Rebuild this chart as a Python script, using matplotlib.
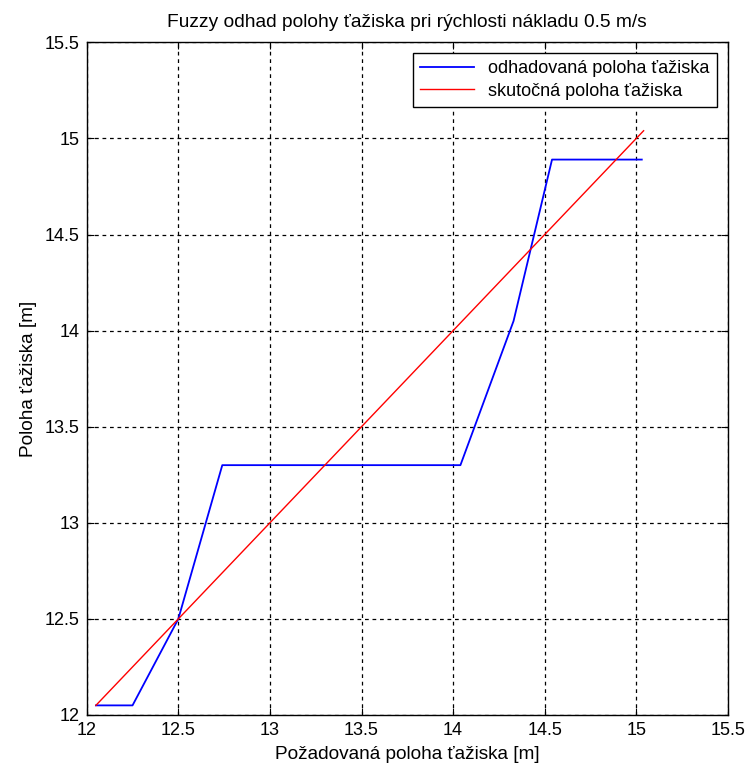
import matplotlib
matplotlib.use("Agg")
import matplotlib.pyplot as plt

plt.rcParams['font.family'] = ['Liberation Sans', 'DejaVu Sans']

title = "Fuzzy odhad polohy ťažiska pri rýchlosti nákladu 0.5 m/s"
xlabel = "Požadovaná poloha ťažiska [m]"
ylabel = "Poloha ťažiska [m]"
est_label = "odhadovaná poloha ťažiska"
true_label = "skutočná poloha ťažiska"

est_x = [12.05, 12.25, 12.50, 12.74, 14.04, 14.33, 14.49, 14.54, 15.03]
est_y = [12.05, 12.05, 12.50, 13.30, 13.30, 14.05, 14.69, 14.89, 14.89]
true_x = [12.05, 15.04]
true_y = [12.05, 15.04]
ticks = [12, 12.5, 13, 13.5, 14, 14.5, 15, 15.5]
tick_labels = ["12", "12.5", "13", "13.5", "14", "14.5", "15", "15.5"]

fig = plt.figure(figsize=(7.49, 7.67), dpi=100)
ax = fig.add_axes([0.1158, 0.0678, 0.856, 0.877])
ax.plot(est_x, est_y, color='#0000ff', lw=1.3, label=est_label)
ax.plot(true_x, true_y, color='#ff0000', lw=1.0, label=true_label)
ax.set_xlim(12, 15.5)
ax.set_ylim(12, 15.5)
ax.set_xticks(ticks)
ax.set_xticklabels(tick_labels)
ax.set_yticks(ticks)
ax.set_yticklabels(tick_labels)
ax.grid(True, color='black', linestyle=(0, (3, 3)), lw=0.9)
ax.tick_params(direction='in', labelsize=13, top=True, right=True, length=5, pad=5)
for s in ax.spines.values():
    s.set_linewidth(1.0)
ax.set_title(title, fontsize=13.8, pad=11)
ax.set_xlabel(xlabel, fontsize=13.7, labelpad=5)
ax.set_ylabel(ylabel, fontsize=13.7, labelpad=6)
leg = ax.legend(loc='upper right', fontsize=13, fancybox=False, edgecolor='black',
                framealpha=1, handlelength=3.0, borderaxespad=0.6, labelspacing=0.3)
leg.get_frame().set_linewidth(1.0)
fig.savefig("out.png", dpi=100)
